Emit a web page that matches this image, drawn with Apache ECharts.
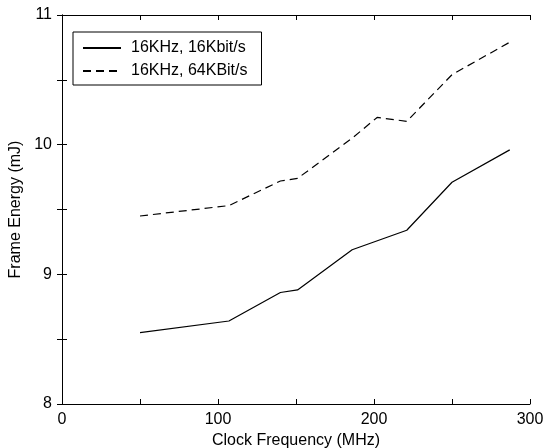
<!DOCTYPE html>
<html>
<head>
<meta charset="utf-8">
<script src="https://cdn.jsdelivr.net/npm/echarts@6/dist/echarts.min.js"></script>
<style>
  html, body { margin: 0; padding: 0; background: #fff; }
  #chart { width: 545px; height: 448px; }
</style>
</head>
<body>
<div id="chart"></div>
<script>
// clock frequency (MHz) and frame energy (mJ)
var freq16 = [50, 107, 140, 151, 186, 221, 250, 287];
var energy16 = [8.55, 8.64, 8.86, 8.88, 9.19, 9.34, 9.71, 9.96];
var freq64 = [50, 107, 140, 151, 186, 202, 221, 250, 287];
var energy64 = [9.45, 9.53, 9.72, 9.74, 10.05, 10.21, 10.18, 10.54, 10.79];
var seriesNames = ['16KHz, 16Kbit/s', '16KHz, 64KBit/s'];

function pairs(xs, ys) {
    var out = [];
    xs.forEach(function (x, i) {
        out.push([x, ys[i]]);
    });
    return out;
}

var font = 'Liberation Sans, Arial, Helvetica, sans-serif';
var axisLine = { lineStyle: { color: '#000', width: 1 } };
var tick = { inside: true, length: 5, lineStyle: { color: '#000' } };

var chart = echarts.init(document.getElementById('chart'));
chart.setOption({
    animation: false,
    textStyle: { fontFamily: font },
    grid: { left: 62, right: 15, top: 15, bottom: 44, containLabel: false, outerBoundsMode: 'none' },
    legend: {
        orient: 'vertical',
        left: 73,
        top: 32,
        padding: [8, 14, 6, 9],
        itemWidth: 38,
        itemHeight: 14,
        itemGap: 7,
        borderColor: '#000',
        borderWidth: 1,
        borderRadius: 0,
        itemStyle: { color: 'transparent', borderWidth: 0, opacity: 0 },
        textStyle: { fontSize: 16, color: '#000', fontFamily: font, padding: [0, 0, 0, 5] },
        data: seriesNames
    },
    xAxis: [{
        type: 'value', min: 0, max: 300, interval: 50,
        position: 'bottom',
        axisLine: axisLine, axisTick: tick,
        splitLine: { show: false },
        axisLabel: {
            fontSize: 16, color: '#000', margin: 8,
            formatter: function (v) { return v % 100 === 0 ? v : ''; }
        },
        name: 'Clock Frequency (MHz)',
        nameLocation: 'middle',
        nameGap: 29,
        nameTextStyle: { fontSize: 16, color: '#000' }
    }, {
        type: 'value', min: 0, max: 300, interval: 50,
        position: 'top',
        axisLine: axisLine, axisTick: tick,
        splitLine: { show: false },
        axisLabel: { show: false }
    }],
    yAxis: [{
        type: 'value', min: 8, max: 11, interval: 0.5,
        position: 'left',
        axisLine: axisLine, axisTick: tick,
        splitLine: { show: false },
        axisLabel: {
            fontSize: 16, color: '#000', margin: 10,
            formatter: function (v) { return v % 1 === 0 ? v : ''; }
        },
        name: 'Frame Energy (mJ)',
        nameLocation: 'middle',
        nameGap: 31,
        nameTextStyle: { fontSize: 16, color: '#000' }
    }, {
        type: 'value', min: 8, max: 11, interval: 0.5,
        position: 'right',
        axisLine: axisLine, axisTick: tick,
        splitLine: { show: false },
        axisLabel: { show: false }
    }],
    series: [{
        name: seriesNames[0],
        type: 'line',
        symbol: 'none',
        lineStyle: { color: '#000', width: 1.2, type: 'solid' },
        itemStyle: { color: '#000' },
        data: pairs(freq16, energy16)
    }, {
        name: seriesNames[1],
        type: 'line',
        symbol: 'none',
        lineStyle: { color: '#000', width: 1.2, type: [8, 5] },
        itemStyle: { color: '#000' },
        data: pairs(freq64, energy64)
    }]
});
</script>
</body>
</html>
